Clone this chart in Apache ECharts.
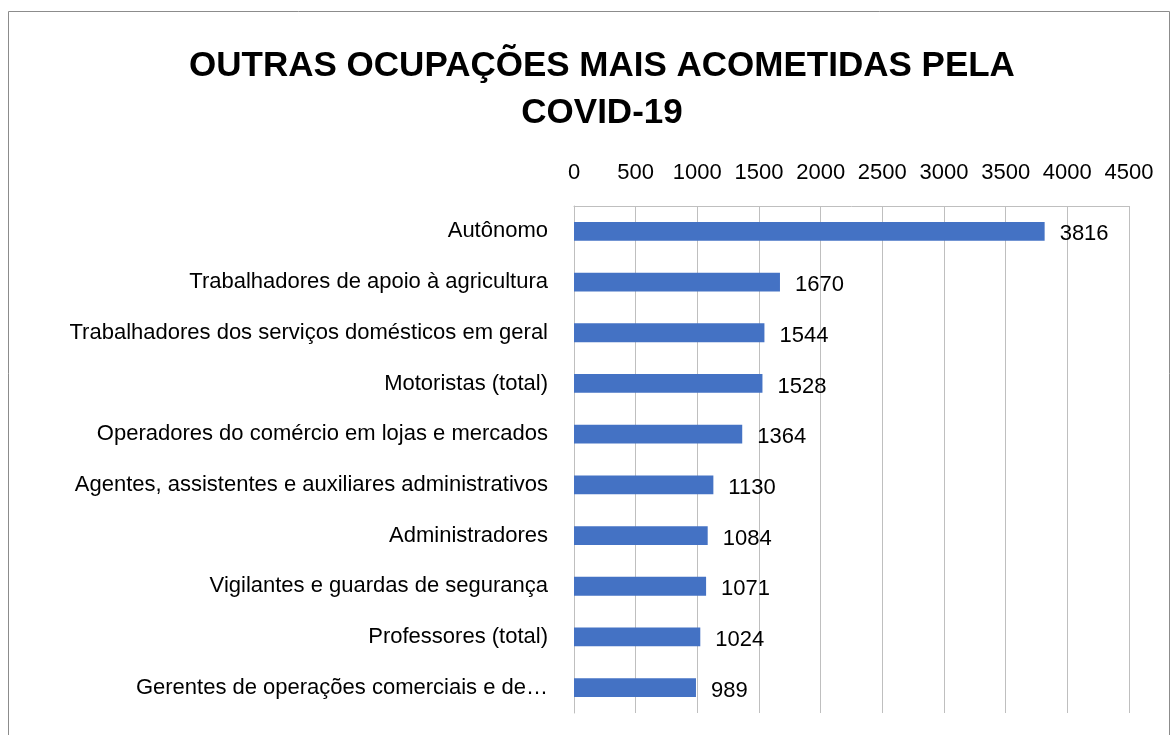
<!DOCTYPE html>
<html>
<head>
<meta charset="utf-8">
<script src="https://cdn.jsdelivr.net/npm/echarts@6/dist/echarts.min.js"></script>
<style>
  html, body { margin: 0; padding: 0; background: #fff; }
  #chart { width: 1172px; height: 735px; }
</style>
</head>
<body>
<div id="chart"></div>
<script>
// categories listed bottom to top (ECharts category axis runs upward)
const categories = [
    'Gerentes de operações comerciais e de…',
    'Professores (total)',
    'Vigilantes e guardas de segurança',
    'Administradores',
    'Agentes, assistentes e auxiliares administrativos',
    'Operadores do comércio em lojas e mercados',
    'Motoristas (total)',
    'Trabalhadores dos serviços domésticos em geral',
    'Trabalhadores de apoio à agricultura',
    'Autônomo'
];
const values = [989, 1024, 1071, 1084, 1130, 1364, 1528, 1544, 1670, 3816];
const xMin = 0;
const xMax = 4500;
const xStep = 500;

const font = "'Liberation Sans', Arial, sans-serif";

const chart = echarts.init(document.getElementById('chart'));
chart.setOption({
    animation: false,
    title: {
        text: 'OUTRAS OCUPAÇÕES MAIS ACOMETIDAS PELA\nCOVID-19',
        left: 597,
        textAlign: 'center',
        top: 38,
        textStyle: {
            fontFamily: font,
            fontSize: 35,
            fontWeight: 'bold',
            color: '#000',
            lineHeight: 47,
        },
    },
    graphic: [{
        type: 'rect',
        shape: {x: 8.5, y: 11.5, width: 1161, height: 740},
        style: {fill: 'none', stroke: '#8c8c8c', lineWidth: 1},
        silent: true,
    }],
    grid: {
        left: 574,
        right: 43,
        top: 206,
        bottom: 22,
        containLabel: false,
    },
    xAxis: {
        type: 'value',
        position: 'top',
        min: xMin,
        max: xMax,
        interval: xStep,
        axisLine: {show: true, lineStyle: {color: '#bfbfbf'}},
        axisTick: {show: false},
        axisLabel: {
            color: '#000',
            fontFamily: font,
            fontSize: 22,
            margin: 22,
            formatter: (v) => String(v),
        },
        splitLine: {show: true, lineStyle: {color: '#bfbfbf'}},
    },
    yAxis: {
        type: 'category',
        data: categories,
        axisLine: {show: true, lineStyle: {color: '#bfbfbf'}},
        axisTick: {show: false},
        axisLabel: {
            color: '#000',
            fontFamily: font,
            fontSize: 22,
            margin: 26,
            padding: [4, 0, 0, 0],
        },
    },
    series: [{
        type: 'bar',
        data: values,
        barWidth: '37%',
        itemStyle: {color: '#4472c4'},
        label: {
            show: true,
            position: 'right',
            distance: 15,
            offset: [0, 3],
            color: '#000',
            fontFamily: font,
            fontSize: 22,
        },
    }],
});
</script>
</body>
</html>
